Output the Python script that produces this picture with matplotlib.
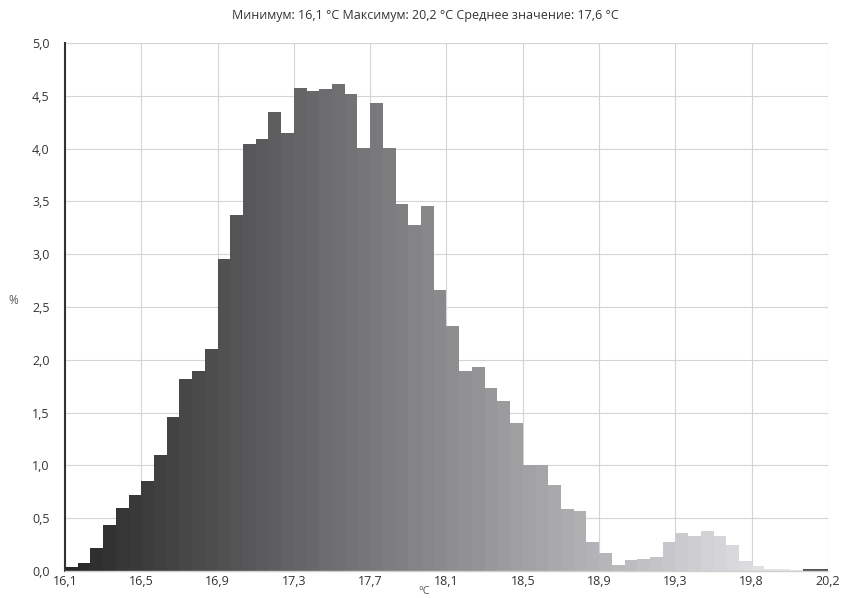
import numpy as np
import matplotlib
matplotlib.use("Agg")
import matplotlib.pyplot as plt

plt.rcParams['font.family'] = ['Open Sans', 'DejaVu Sans']

# Data
x_min, x_max = 16.1, 20.2
values = [0.04, 0.08, 0.22, 0.44, 0.60, 0.72, 0.85, 1.10, 1.46, 1.82,
          1.89, 2.10, 2.95, 3.37, 4.04, 4.09, 4.35, 4.15, 4.57, 4.55,
          4.56, 4.61, 4.52, 4.01, 4.43, 4.01, 3.48, 3.28, 3.46, 2.66,
          2.32, 1.89, 1.93, 1.73, 1.61, 1.40, 1.00, 1.00, 0.81, 0.59,
          0.57, 0.27, 0.17, 0.06, 0.10, 0.11, 0.13, 0.27, 0.36, 0.33,
          0.38, 0.33, 0.25, 0.095, 0.047, 0.02, 0.02, 0.012, 0.015, 0.015]
tick_labels = ["16,1", "16,5", "16,9", "17,3", "17,7", "18,1",
               "18,5", "18,9", "19,3", "19,8", "20,2"]
y_ticks = [0.0, 0.5, 1.0, 1.5, 2.0, 2.5, 3.0, 3.5, 4.0, 4.5, 5.0]
title = "Минимум: 16,1 °C Максимум: 20,2 °C Среднее значение: 17,6 °C"

n = len(values)
width = (x_max - x_min) / n
lefts = x_min + np.arange(n) * width

greys = np.linspace(40, 240, n) / 255.0
colors = [(g, g, min(1.0, g * 1.02)) for g in greys]
# last bins drawn darker in the reference
colors[-2] = (0.33, 0.33, 0.33)
colors[-1] = (0.33, 0.33, 0.33)

fig = plt.figure(figsize=(8.44, 5.98), dpi=100)
ax = fig.add_axes([65/844, (598-571)/598, (828-65)/844, (571-43)/598])

ax.bar(lefts, values, width=width, align='edge', color=colors,
       edgecolor='none', linewidth=0, zorder=2)

ax.set_xlim(x_min, x_max)
ax.set_ylim(0, 5.0)
xt = np.linspace(x_min, x_max, len(tick_labels))
ax.set_xticks(xt)
ax.set_xticklabels(tick_labels)
ax.set_yticks(y_ticks)
ax.set_yticklabels([f"{v:.1f}".replace('.', ',') for v in y_ticks])
ax.tick_params(length=0, labelsize=9, colors='#333333', pad=3)
ax.tick_params(axis='y', pad=11)

ax.grid(True, color='#d4d4d4', linewidth=0.8, zorder=0)
ax.set_axisbelow(True)

for s in ['top', 'right']:
    ax.spines[s].set_visible(False)
ax.spines['left'].set_color('#333333')
ax.spines['left'].set_linewidth(1.5)
ax.spines['bottom'].set_color('#cfcfcf')
ax.spines['bottom'].set_linewidth(1.0)

fig.text(425/844, 1 - 16/598, title, ha='center', va='center',
         fontsize=9, color='#333333')
fig.text(13/844, 1 - 300/598, "%", ha='center', va='center',
         fontsize=8.5, color='#555555')
fig.text(424/844, 1 - 591/598, "°C", ha='center', va='center',
         fontsize=8, color='#555555')

fig.savefig("out.png", dpi=100)
